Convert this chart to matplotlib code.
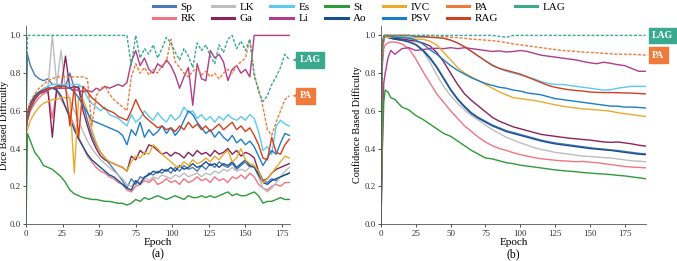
import matplotlib
matplotlib.use("Agg")
import matplotlib.pyplot as plt

plt.rcParams['font.family'] = ['Liberation Serif', 'DejaVu Serif']

# organ labels in legend order (column-major, 7 columns)
labels = ["Sp", "RK", "LK", "Ga", "Es", "Li", "St", "Ao", "IVC", "PSV", "PA", "RAG", "LAG"]
colors = ["#4b78b6", "#f07484", "#bdbdbd", "#8c2356", "#5ccbf0", "#b03c8a", "#2e9b3a",
          "#184f8f", "#e8ab2e", "#1e7cc8", "#f07a3a", "#d1401f", "#3aaa8e"]
dashed = ["PA", "LAG"]

# ---- (a) dice based difficulty ----
epochs_a = [0, 1] + list(range(3, 181, 3))

sp_dice = [0.55, 0.90, 0.84, 0.79, 0.77, 0.76, 0.77, 0.74, 0.74, 0.73,
           0.73, 0.80, 0.72, 0.73, 0.64, 0.55, 0.47, 0.42, 0.38, 0.35,
           0.32, 0.29, 0.26, 0.23, 0.19, 0.24, 0.21, 0.25, 0.24, 0.27,
           0.26, 0.28, 0.27, 0.29, 0.27, 0.30, 0.28, 0.31, 0.29, 0.30,
           0.28, 0.31, 0.29, 0.32, 0.30, 0.33, 0.31, 0.30, 0.32, 0.29,
           0.31, 0.33, 0.30, 0.31, 0.27, 0.23, 0.22, 0.24, 0.23, 0.25,
           0.26, 0.27]
rk_dice = [0.50, 0.55, 0.60, 0.64, 0.67, 0.69, 0.70, 0.56, 0.71, 0.66,
           0.62, 0.58, 0.52, 0.46, 0.41, 0.36, 0.33, 0.30, 0.28, 0.27,
           0.25, 0.24, 0.22, 0.21, 0.18, 0.17, 0.20, 0.21, 0.23, 0.22,
           0.24, 0.21, 0.22, 0.24, 0.22, 0.23, 0.21, 0.24, 0.22, 0.23,
           0.25, 0.23, 0.24, 0.22, 0.25, 0.23, 0.24, 0.22, 0.25, 0.24,
           0.26, 0.24, 0.27, 0.25, 0.21, 0.19, 0.18, 0.20, 0.21, 0.20,
           0.22, 0.22]
lk_dice = [0.52, 0.58, 0.63, 0.67, 0.70, 0.71, 0.72, 1.00, 0.74, 0.92,
           0.72, 0.66, 0.60, 0.55, 0.49, 0.44, 0.40, 0.37, 0.34, 0.32,
           0.30, 0.28, 0.26, 0.24, 0.21, 0.20, 0.23, 0.22, 0.25, 0.23,
           0.25, 0.24, 0.26, 0.25, 0.24, 0.26, 0.25, 0.27, 0.25, 0.26,
           0.27, 0.25, 0.27, 0.26, 0.28, 0.27, 0.29, 0.28, 0.30, 0.28,
           0.29, 0.28, 0.30, 0.31, 0.25, 0.19, 0.17, 0.19, 0.22, 0.25,
           0.28, 0.30]
ga_dice = [0.50, 0.56, 0.62, 0.66, 0.69, 0.70, 0.71, 0.46, 0.72, 0.72,
           0.89, 0.72, 0.73, 0.72, 0.60, 0.52, 0.45, 0.40, 0.36, 0.34,
           0.33, 0.32, 0.31, 0.30, 0.28, 0.36, 0.34, 0.39, 0.37, 0.42,
           0.41, 0.39, 0.37, 0.38, 0.36, 0.38, 0.37, 0.35, 0.38, 0.36,
           0.39, 0.37, 0.38, 0.36, 0.39, 0.37, 0.38, 0.40, 0.37, 0.39,
           0.36, 0.38, 0.37, 0.35, 0.28, 0.23, 0.24, 0.27, 0.29, 0.30,
           0.31, 0.32]
es_dice = [0.50, 0.56, 0.62, 0.67, 0.70, 0.72, 0.73, 0.74, 0.74, 0.74,
           0.74, 0.74, 0.74, 0.74, 0.72, 0.67, 0.64, 0.62, 0.60, 0.62,
           0.58, 0.57, 0.56, 0.54, 0.52, 0.58, 0.54, 0.56, 0.60, 0.57,
           0.55, 0.59, 0.56, 0.54, 0.58, 0.55, 0.57, 0.62, 0.59, 0.60,
           0.56, 0.58, 0.55, 0.57, 0.54, 0.57, 0.55, 0.58, 0.56, 0.55,
           0.57, 0.55, 0.58, 0.56, 0.49, 0.39, 0.41, 0.37, 0.52, 0.55,
           0.53, 0.52]
li_dice = [0.55, 0.60, 0.64, 0.67, 0.69, 0.70, 0.71, 0.72, 0.72, 0.72,
           0.72, 0.72, 0.71, 0.71, 0.70, 0.71, 0.70, 0.72, 0.71, 0.73,
           0.72, 0.73, 0.74, 0.73, 0.75, 0.86, 0.92, 0.84, 0.88, 0.82,
           0.80, 0.85, 0.83, 0.87, 0.84, 0.79, 0.72, 0.78, 0.83, 0.63,
           0.85, 0.77, 0.76, 0.92, 0.88, 0.90, 0.86, 0.76, 0.82, 0.84,
           0.80, 0.82, 0.78, 1.00, 1.00, 1.00, 1.00, 1.00, 1.00, 1.00,
           1.00, 1.00]
st_dice = [0.00, 0.48, 0.44, 0.38, 0.35, 0.31, 0.30, 0.29, 0.27, 0.25,
           0.22, 0.18, 0.16, 0.15, 0.14, 0.135, 0.13, 0.13, 0.125, 0.12,
           0.12, 0.115, 0.11, 0.11, 0.10, 0.11, 0.13, 0.12, 0.14, 0.13,
           0.14, 0.15, 0.14, 0.13, 0.14, 0.15, 0.14, 0.13, 0.15, 0.14,
           0.14, 0.15, 0.14, 0.15, 0.14, 0.15, 0.16, 0.17, 0.15, 0.16,
           0.15, 0.15, 0.16, 0.17, 0.15, 0.11, 0.12, 0.12, 0.13, 0.14,
           0.13, 0.13]
ao_dice = [0.52, 0.58, 0.64, 0.68, 0.70, 0.71, 0.72, 0.72, 0.71, 0.68,
           0.62, 0.56, 0.50, 0.45, 0.41, 0.37, 0.34, 0.32, 0.30, 0.28,
           0.26, 0.25, 0.23, 0.21, 0.19, 0.18, 0.23, 0.21, 0.25, 0.26,
           0.28, 0.27, 0.29, 0.28, 0.30, 0.28, 0.31, 0.29, 0.30, 0.32,
           0.30, 0.31, 0.33, 0.31, 0.32, 0.30, 0.32, 0.31, 0.33, 0.30,
           0.32, 0.34, 0.31, 0.30, 0.26, 0.22, 0.21, 0.23, 0.24, 0.25,
           0.26, 0.27]
ivc_dice = [0.48, 0.50, 0.55, 0.59, 0.62, 0.64, 0.65, 0.66, 0.66, 0.67,
            0.67, 0.67, 0.27, 0.67, 0.66, 0.60, 0.50, 0.43, 0.38, 0.35,
            0.33, 0.32, 0.31, 0.30, 0.28, 0.33, 0.36, 0.35, 0.38, 0.37,
            0.42, 0.40, 0.37, 0.35, 0.33, 0.31, 0.30, 0.33, 0.31, 0.34,
            0.32, 0.33, 0.35, 0.33, 0.36, 0.34, 0.37, 0.39, 0.33, 0.35,
            0.40, 0.34, 0.32, 0.31, 0.28, 0.22, 0.24, 0.27, 0.30, 0.33,
            0.36, 0.35]
psv_dice = [0.50, 0.55, 0.61, 0.66, 0.69, 0.71, 0.72, 0.72, 0.73, 0.73,
            0.73, 0.72, 0.70, 0.67, 0.63, 0.59, 0.55, 0.54, 0.53, 0.52,
            0.51, 0.50, 0.49, 0.47, 0.42, 0.50, 0.47, 0.54, 0.46, 0.50,
            0.47, 0.49, 0.52, 0.48, 0.51, 0.47, 0.50, 0.55, 0.60, 0.58,
            0.54, 0.51, 0.48, 0.50, 0.46, 0.49, 0.46, 0.44, 0.47, 0.43,
            0.45, 0.42, 0.44, 0.41, 0.36, 0.31, 0.35, 0.39, 0.37, 0.43,
            0.48, 0.47]
pa_dice = [0.55, 0.60, 0.65, 0.69, 0.72, 0.74, 0.76, 0.77, 0.78, 0.78,
           0.78, 0.78, 0.78, 0.78, 0.78, 0.77, 0.52, 0.68, 0.72, 0.73,
           0.69, 0.66, 0.64, 0.62, 0.60, 0.78, 0.85, 0.80, 0.83, 0.79,
           0.82, 0.80, 0.84, 0.86, 0.98, 0.86, 0.83, 0.80, 0.78, 0.81,
           0.83, 0.79, 0.81, 0.78, 0.80, 0.77, 0.80, 0.82, 0.80, 0.84,
           0.86, 0.88, 0.98, 0.78, 0.72, 0.62, 0.50, 0.47, 0.54, 0.60,
           0.66, 0.68]
rag_dice = [0.50, 0.56, 0.62, 0.66, 0.69, 0.71, 0.72, 0.72, 0.73, 0.73,
            0.73, 0.52, 0.73, 0.46, 0.73, 0.70, 0.67, 0.65, 0.63, 0.61,
            0.60, 0.59, 0.57, 0.56, 0.55, 0.60, 0.66, 0.61, 0.57, 0.55,
            0.53, 0.51, 0.52, 0.50, 0.51, 0.49, 0.52, 0.50, 0.54, 0.51,
            0.53, 0.50, 0.52, 0.49, 0.51, 0.53, 0.50, 0.52, 0.54, 0.50,
            0.52, 0.49, 0.51, 0.47, 0.42, 0.35, 0.34, 0.46, 0.38, 0.37,
            0.42, 0.45]
lag_dice = [0.50, 1.00, 1.00, 1.00, 1.00, 1.00, 1.00, 1.00, 1.00, 1.00,
            1.00, 1.00, 1.00, 1.00, 1.00, 1.00, 1.00, 1.00, 1.00, 1.00,
            1.00, 1.00, 1.00, 1.00, 1.00, 0.84, 1.00, 0.88, 0.93, 0.90,
            0.95, 0.88, 0.93, 0.99, 0.96, 0.91, 0.87, 0.93, 0.89, 0.83,
            0.96, 0.92, 0.95, 0.89, 0.85, 0.95, 0.91, 0.98, 1.00, 0.93,
            0.97, 0.92, 0.98, 0.80, 0.70, 0.65, 0.68, 0.74, 0.78, 0.83,
            0.90, 0.87]

# ---- (b) confidence based difficulty ----
epochs_b = [0, 1, 2, 3, 5, 7] + list(range(10, 191, 5))

sp_conf = [0, 0.90, 0.985, 0.99, 0.99, 0.985, 0.98, 0.975, 0.968, 0.955,
           0.925, 0.885, 0.835, 0.775, 0.715, 0.665, 0.625, 0.59, 0.565, 0.545,
           0.525, 0.51, 0.495, 0.485, 0.475, 0.465, 0.455, 0.445, 0.437, 0.43,
           0.425, 0.42, 0.415, 0.41, 0.405, 0.40, 0.397, 0.393, 0.39, 0.385,
           0.38, 0.375, 0.372]
rk_conf = [0, 0.85, 0.93, 0.95, 0.96, 0.965, 0.965, 0.955, 0.93, 0.875,
           0.81, 0.75, 0.69, 0.645, 0.60, 0.56, 0.52, 0.49, 0.46, 0.435,
           0.415, 0.40, 0.39, 0.378, 0.368, 0.36, 0.352, 0.346, 0.342, 0.338,
           0.335, 0.333, 0.33, 0.332, 0.328, 0.325, 0.32, 0.315, 0.31, 0.305,
           0.302, 0.30, 0.298]
lk_conf = [0, 0.90, 0.99, 0.99, 0.99, 0.985, 0.985, 0.98, 0.975, 0.955,
           0.92, 0.86, 0.79, 0.73, 0.68, 0.64, 0.605, 0.575, 0.55, 0.525,
           0.50, 0.48, 0.46, 0.445, 0.43, 0.418, 0.405, 0.395, 0.388, 0.38,
           0.375, 0.37, 0.365, 0.36, 0.358, 0.355, 0.352, 0.35, 0.345, 0.34,
           0.335, 0.333, 0.33]
ga_conf = [0, 0.90, 0.99, 0.99, 0.99, 0.985, 0.985, 0.98, 0.975, 0.97,
           0.96, 0.945, 0.91, 0.86, 0.80, 0.74, 0.69, 0.655, 0.625, 0.595,
           0.565, 0.545, 0.53, 0.515, 0.505, 0.495, 0.485, 0.475, 0.47, 0.465,
           0.46, 0.455, 0.452, 0.448, 0.445, 0.44, 0.435, 0.433, 0.435, 0.43,
           0.425, 0.418, 0.413]
es_conf = [0, 0.90, 0.98, 0.99, 0.995, 0.995, 0.995, 0.995, 0.99, 0.99,
           0.99, 0.99, 0.99, 0.985, 0.975, 0.96, 0.94, 0.915, 0.89, 0.865,
           0.845, 0.825, 0.81, 0.80, 0.79, 0.78, 0.77, 0.755, 0.745, 0.74,
           0.74, 0.735, 0.73, 0.725, 0.72, 0.715, 0.71, 0.712, 0.72, 0.725,
           0.73, 0.73, 0.73]
li_conf = [0, 0.45, 0.75, 0.80, 0.88, 0.92, 0.90, 0.93, 0.935, 0.92,
           0.925, 0.93, 0.932, 0.93, 0.935, 0.93, 0.935, 0.93, 0.925, 0.92,
           0.915, 0.918, 0.912, 0.915, 0.92, 0.915, 0.905, 0.895, 0.89, 0.885,
           0.88, 0.875, 0.87, 0.862, 0.855, 0.85, 0.858, 0.852, 0.845, 0.84,
           0.825, 0.81, 0.81]
st_conf = [0, 0.40, 0.65, 0.71, 0.70, 0.67, 0.66, 0.62, 0.605, 0.575,
           0.555, 0.53, 0.505, 0.48, 0.465, 0.44, 0.415, 0.39, 0.37, 0.35,
           0.345, 0.335, 0.325, 0.32, 0.312, 0.307, 0.302, 0.297, 0.292, 0.287,
           0.283, 0.28, 0.277, 0.273, 0.27, 0.267, 0.265, 0.262, 0.258, 0.255,
           0.25, 0.245, 0.24]
ao_conf = [0, 0.92, 0.99, 0.99, 0.99, 0.985, 0.98, 0.975, 0.965, 0.95,
           0.92, 0.88, 0.83, 0.77, 0.71, 0.66, 0.62, 0.585, 0.56, 0.54,
           0.52, 0.505, 0.49, 0.48, 0.47, 0.46, 0.45, 0.44, 0.432, 0.425,
           0.42, 0.415, 0.41, 0.405, 0.40, 0.397, 0.393, 0.39, 0.385, 0.38,
           0.375, 0.37, 0.368]
ivc_conf = [0, 0.90, 0.99, 0.99, 0.99, 0.99, 0.99, 0.99, 0.985, 0.98,
            0.98, 0.97, 0.95, 0.91, 0.87, 0.83, 0.80, 0.78, 0.76, 0.74,
            0.72, 0.70, 0.685, 0.67, 0.665, 0.66, 0.655, 0.648, 0.64, 0.632,
            0.625, 0.62, 0.615, 0.61, 0.608, 0.605, 0.602, 0.598, 0.59, 0.585,
            0.58, 0.575, 0.57]
psv_conf = [0, 0.95, 0.99, 1.00, 1.00, 0.995, 0.99, 0.988, 0.985, 0.975,
            0.955, 0.925, 0.90, 0.87, 0.84, 0.815, 0.795, 0.775, 0.76, 0.745,
            0.735, 0.725, 0.72, 0.71, 0.705, 0.695, 0.69, 0.685, 0.675, 0.665,
            0.66, 0.655, 0.65, 0.645, 0.64, 0.635, 0.63, 0.625, 0.625, 0.62,
            0.62, 0.618, 0.615]
pa_conf = [0, 0.95, 1.00, 1.00, 1.00, 1.00, 1.00, 1.00, 1.00, 1.00,
           1.00, 1.00, 0.998, 0.995, 0.99, 0.988, 0.985, 0.98, 0.978, 0.975,
           0.972, 0.968, 0.962, 0.955, 0.95, 0.945, 0.94, 0.935, 0.93, 0.925,
           0.92, 0.918, 0.915, 0.912, 0.91, 0.908, 0.905, 0.903, 0.90, 0.90,
           0.90, 0.898, 0.895]
rag_conf = [0, 0.95, 1.00, 1.00, 1.00, 1.00, 1.00, 1.00, 1.00, 0.995,
            0.995, 0.99, 0.988, 0.985, 0.975, 0.96, 0.94, 0.915, 0.89, 0.865,
            0.84, 0.825, 0.815, 0.805, 0.795, 0.78, 0.765, 0.75, 0.735, 0.725,
            0.718, 0.712, 0.708, 0.705, 0.70, 0.698, 0.697, 0.697, 0.696, 0.695,
            0.694, 0.692, 0.69]
lag_conf = [0, 0.92, 1.00, 1.00, 1.00, 1.00, 1.00, 1.00, 1.00, 1.00,
            1.00, 1.00, 1.00, 1.00, 1.00, 1.00, 1.00, 1.00, 1.00, 1.00,
            1.00, 0.995, 0.99, 1.00, 1.00, 1.00, 1.00, 1.00, 1.00, 1.00,
            1.00, 1.00, 1.00, 1.00, 1.00, 1.00, 1.00, 1.00, 1.00, 1.00,
            1.00, 1.00, 1.00]

dice_series = [sp_dice, rk_dice, lk_dice, ga_dice, es_dice, li_dice, st_dice,
               ao_dice, ivc_dice, psv_dice, pa_dice, rag_dice, lag_dice]
conf_series = [sp_conf, rk_conf, lk_conf, ga_conf, es_conf, li_conf, st_conf,
               ao_conf, ivc_conf, psv_conf, pa_conf, rag_conf, lag_conf]

fig = plt.figure(figsize=(6.77, 2.61), dpi=100)
ax1 = fig.add_axes([0.0384, 0.1418, 0.390, 0.7586])
ax2 = fig.add_axes([0.5628, 0.1418, 0.3914, 0.7586])

# axes, epochs, series, y label, tag, x max, gap of the callout boxes (pt), y label x
panels = [(ax1, epochs_a, dice_series, "Dice Based Difficulty", "(a)", 180.5, 5, -0.064),
          (ax2, epochs_b, conf_series, "Confidence Based Difficulty", "(b)", 190.3, 2.5, -0.07)]

for ax, ep, series, ylab, tag, xmax, gap, ylx in panels:
    for lab, col, vals in zip(labels, colors, series):
        ls = (0, (2.2, 1.2)) if lab in dashed else "-"
        ax.plot(ep, vals, color=col, lw=1.0, ls=ls, label=lab)
    ax.set_xlim(0, xmax)
    ax.set_ylim(0, 1.05)
    ax.set_xticks([0, 25, 50, 75, 100, 125, 150, 175])
    ax.set_yticks([0.0, 0.2, 0.4, 0.6, 0.8, 1.0])
    ax.set_yticklabels(["0.0", "0.2", "0.4", "0.6", "0.8", "1.0"])
    ax.tick_params(labelsize=6.5, length=2.5, width=0.6, pad=1.5, colors="#333333")
    for s in ["top", "right"]:
        ax.spines[s].set_visible(False)
    for s in ["left", "bottom"]:
        ax.spines[s].set_linewidth(0.6)
        ax.spines[s].set_color("#555555")
    ax.set_xlabel("Epoch", fontsize=8, labelpad=0)
    ax.set_ylabel(ylab, fontsize=7.3)
    ax.yaxis.set_label_coords(ylx, 0.5)
    ax.text(0.5, -0.125, tag, transform=ax.transAxes, ha="center", va="top", fontsize=8.5)

    # callout boxes for the two dashed organs
    for lab, col, vals in zip(labels, colors, series):
        if lab in dashed:
            ax.annotate(lab, xy=(1.01, vals[-1]), xycoords=("axes fraction", "data"),
                        xytext=(gap, 0), textcoords="offset points",
                        ha="left", va="center", fontsize=7, fontweight="bold", color="white",
                        bbox=dict(boxstyle="square,pad=0.35", fc=col, ec=col),
                        arrowprops=dict(arrowstyle="-|>", color=col, lw=0.6,
                                        shrinkA=0, shrinkB=0, mutation_scale=5),
                        annotation_clip=False)

handles, labs = ax1.get_legend_handles_labels()
leg = fig.legend(handles, labs, loc="upper center", bbox_to_anchor=(0.53, 1.03), ncol=7,
                 frameon=False, fontsize=8, handlelength=2.0, handletextpad=0.5,
                 columnspacing=1.45, labelspacing=0.15)
for h in leg.get_lines():
    h.set_linewidth(2.2)
    h.set_linestyle("-")

fig.savefig("out.png", dpi=100)
